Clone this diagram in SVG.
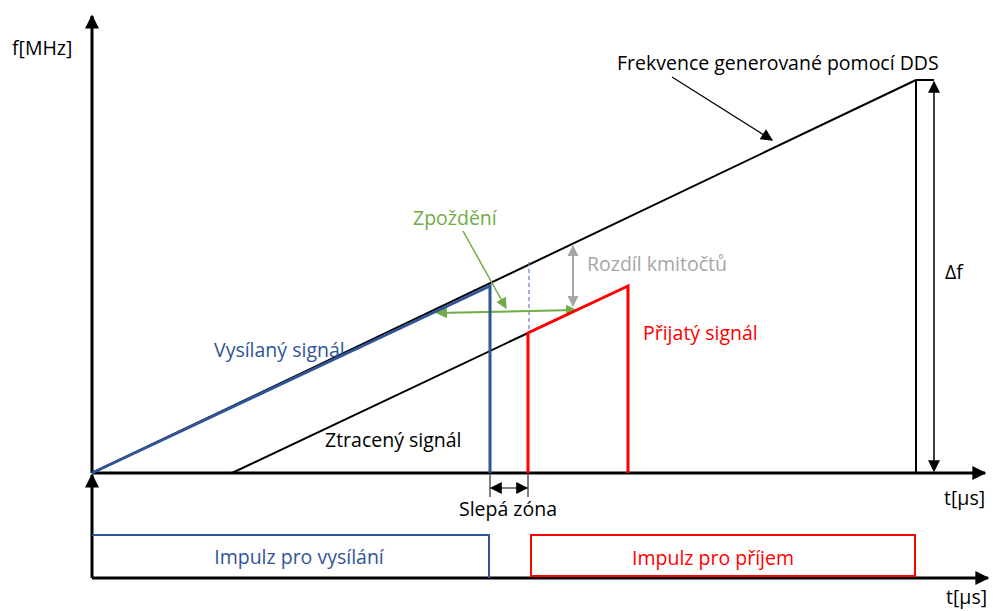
<svg xmlns="http://www.w3.org/2000/svg" width="996" height="611" viewBox="0 0 996 611">
<defs>
<marker id="axh" viewBox="0 0 10 10" refX="9" refY="5" markerWidth="18" markerHeight="14" markerUnits="userSpaceOnUse" orient="auto-start-reverse"><path d="M0,0 L10,5 L0,10 z" fill="#000"/></marker>
<marker id="bh" viewBox="0 0 10 10" refX="9" refY="5" markerWidth="14" markerHeight="12" markerUnits="userSpaceOnUse" orient="auto-start-reverse"><path d="M0,0 L10,5 L0,10 z" fill="#000"/></marker>
<marker id="gh" viewBox="0 0 10 10" refX="9" refY="5" markerWidth="14" markerHeight="11" markerUnits="userSpaceOnUse" orient="auto-start-reverse"><path d="M0,0 L10,5 L0,10 z" fill="#70ad47"/></marker>
<marker id="grh" viewBox="0 0 10 10" refX="9" refY="5" markerWidth="12" markerHeight="11" markerUnits="userSpaceOnUse" orient="auto-start-reverse"><path d="M0,0 L10,5 L0,10 z" fill="#a6a6a6"/></marker>
</defs>
<style>
text{font-family:"Open Sans","Liberation Sans",sans-serif;font-size:19.5px}
.ax{stroke:#000;stroke-width:3;fill:none}
.bl{stroke:#000;stroke-width:2;fill:none}
.blue{stroke:#2f5597;stroke-width:3;fill:none}
.red{stroke:#ff0000;stroke-width:3;fill:none}
</style>
<rect width="996" height="611" fill="#fff"/>
<g id="axes">
<line class="ax" x1="92" y1="473" x2="92" y2="16" marker-end="url(#axh)"/>
<line class="ax" x1="92" y1="473" x2="985" y2="473" marker-end="url(#axh)"/>
<line class="ax" x1="92" y1="578" x2="92" y2="475" marker-end="url(#axh)"/>
<line class="ax" x1="92" y1="578" x2="988" y2="578" marker-end="url(#axh)"/>
<text x="12" y="55">f[MHz]</text>
<text x="944" y="505">t[µs]</text>
<text x="946" y="604">t[µs]</text>
</g>
<g id="connectors">
<line class="bl" x1="92" y1="473" x2="916" y2="80"/>
<line class="bl" x1="232" y1="473" x2="528" y2="333"/>
<line class="bl" x1="916" y1="80" x2="916" y2="473"/>
<line class="bl" x1="916" y1="80" x2="934" y2="80"/>
<line x1="934" y1="82" x2="934" y2="471" stroke="#000" stroke-width="1.5" marker-start="url(#bh)" marker-end="url(#bh)"/>
<line x1="672" y1="77" x2="772" y2="140" stroke="#000" stroke-width="1.2" marker-end="url(#bh)"/>
<line x1="529" y1="262" x2="529" y2="333" stroke="#5b7fc4" stroke-width="1.2" stroke-dasharray="4,3"/>
<line x1="463" y1="231" x2="506" y2="308" stroke="#70ad47" stroke-width="1.5" marker-end="url(#gh)"/>
<line x1="437" y1="313" x2="576" y2="310" stroke="#70ad47" stroke-width="2" marker-start="url(#gh)" marker-end="url(#gh)"/>
<line x1="573" y1="246" x2="573" y2="306" stroke="#a6a6a6" stroke-width="2" marker-start="url(#grh)" marker-end="url(#grh)"/>
<line x1="490" y1="475" x2="490" y2="497" stroke="#000" stroke-width="1"/>
<line x1="528" y1="475" x2="528" y2="497" stroke="#000" stroke-width="1"/>
<line x1="491" y1="488" x2="527" y2="488" stroke="#000" stroke-width="1.2" marker-start="url(#bh)" marker-end="url(#bh)"/>
</g>
<g id="vysilany">
<polyline class="blue" points="92,473 490,286 490,473"/>
<text x="214" y="357" fill="#2f5597">Vysílaný signál</text>
</g>
<g id="prijaty">
<polyline class="red" points="528,473 528,333 628,286 628,473"/>
<text x="643" y="340" fill="#ff0000">Přijatý signál</text>
</g>
<g id="labels">
<text x="325" y="447">Ztracený signál</text>
<text x="617" y="70">Frekvence generované pomocí DDS</text>
<text x="945" y="279">Δf</text>
<text x="413" y="225" fill="#70ad47">Zpoždění</text>
<text x="587" y="271" fill="#a6a6a6">Rozdíl kmitočtů</text>
<text x="508" y="516" text-anchor="middle">Slepá zóna</text>
</g>
<g id="impulz-vysilani">
<polyline points="92,535 489,535 489,578" fill="none" stroke="#2f5597" stroke-width="2"/>
<text x="299" y="564" text-anchor="middle" fill="#2f5597">Impulz pro vysílání</text>
</g>
<g id="impulz-prijem">
<rect x="531" y="535" width="384" height="41" fill="none" stroke="#ff0000" stroke-width="2"/>
<text x="713" y="565" text-anchor="middle" fill="#ff0000">Impulz pro příjem</text>
</g>
</svg>
